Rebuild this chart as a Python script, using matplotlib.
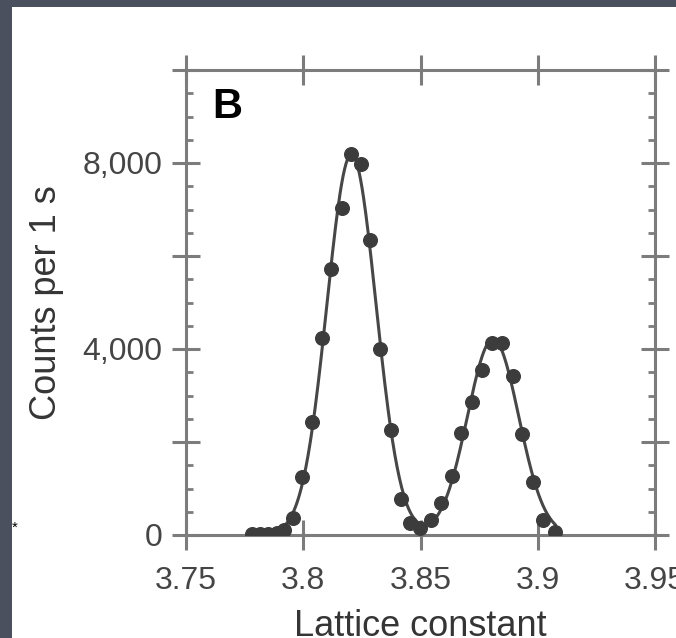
import numpy as np
import matplotlib
matplotlib.use("Agg")
import matplotlib.pyplot as plt
from matplotlib.ticker import MultipleLocator, FixedFormatter, FixedLocator
from matplotlib.patches import Rectangle

# lattice constant scan
lattice = [3.7781, 3.7816, 3.7850, 3.7888, 3.7918, 3.7956, 3.7995, 3.8037,
           3.8080, 3.8118, 3.8165, 3.8204, 3.8246, 3.8285, 3.8327, 3.8374,
           3.8417, 3.8455, 3.8498, 3.8545, 3.8587, 3.8634, 3.8673, 3.8720,
           3.8762, 3.8805, 3.8848, 3.8894, 3.8933, 3.8980, 3.9022, 3.9074]
counts = [20, 20, 20, 40, 100, 360, 1240, 2420,
          4240, 5710, 7040, 8190, 7980, 6350, 4000, 2250,
          770, 260, 150, 320, 680, 1260, 2200, 2870,
          3550, 4130, 4130, 3420, 2180, 1130, 320, 60]

xticks = [3.75, 3.8, 3.85, 3.9, 3.95]
xticklabels = ["3.75", "3.8", "3.85", "3.9", "3.95"]
yticks = [0, 2000, 4000, 6000, 8000, 10000]
yticklabels = ["0", "", "4,000", "", "8,000", ""]

x = np.array(lattice)
y = np.array(counts, dtype=float)


# two gaussian fit, plain gauss-newton with a bit of damping
def model(p, t):
    a1, m1, s1, a2, m2, s2 = p
    return (a1 * np.exp(-(t - m1) ** 2 / (2 * s1 ** 2))
            + a2 * np.exp(-(t - m2) ** 2 / (2 * s2 ** 2)))

split = np.argmin(y[10:25]) + 10
p = []
for sl in (slice(0, split), slice(split, len(x))):
    xs, ys = x[sl], y[sl]
    m = np.sum(xs * ys) / np.sum(ys)
    s = np.sqrt(np.sum(ys * (xs - m) ** 2) / np.sum(ys))
    p += [ys.max(), m, s]
p = np.array(p)
lam = 1e-3
for it in range(200):
    r = y - model(p, x)
    J = np.zeros((len(x), len(p)))
    for k in range(len(p)):
        dp = np.zeros(len(p))
        dp[k] = 1e-6 * max(abs(p[k]), 1e-3)
        J[:, k] = (model(p + dp, x) - model(p - dp, x)) / (2 * dp[k])
    A = J.T @ J
    step = np.linalg.solve(A + lam * np.diag(np.diag(A)), J.T @ r)
    pn = p + step
    if np.sum((y - model(pn, x)) ** 2) < np.sum(r ** 2):
        p = pn
        lam *= 0.5
    else:
        lam *= 4

xf = np.linspace(x.min(), x.max(), 400)
yf = model(p, xf)

plt.rcParams['font.family'] = ['Liberation Sans', 'DejaVu Sans']

fig = plt.figure(figsize=(6.76, 6.38), dpi=100)
fig.patch.set_facecolor("#4b505e")
fig.patches.append(Rectangle((12 / 676, 0), 1, 1 - 7 / 638, transform=fig.transFigure,
                             facecolor="white", edgecolor="none", zorder=-5))

ax = fig.add_axes([186 / 676, 103 / 638, 469 / 676, 465 / 638])
ax.set_facecolor("white")
ax.patch.set_alpha(0)

ax.plot(xf, yf, color="#474747", lw=2.2, zorder=3)
ax.plot(x, y, "o", color="#3c3c3c", ms=9.8, mec="#3c3c3c", zorder=4)

ax.set_xlim(3.75, 3.95)
ax.set_ylim(0, 10000)
ax.xaxis.set_major_locator(FixedLocator(xticks))
ax.xaxis.set_major_formatter(FixedFormatter(xticklabels))
ax.yaxis.set_major_locator(FixedLocator(yticks))
ax.yaxis.set_major_formatter(FixedFormatter(yticklabels))
ax.yaxis.set_minor_locator(MultipleLocator(500))

for s in ax.spines.values():
    s.set_color("#7c7c7c")
    s.set_linewidth(2.2)

ax.tick_params(axis="x", which="major", direction="inout", length=22, width=2.2,
               color="#7c7c7c", top=True, bottom=True, labelsize=23,
               labelcolor="#454545", pad=11)
ax.tick_params(axis="y", which="major", direction="inout", length=20, width=2.2,
               color="#7c7c7c", left=True, right=True, labelsize=23,
               labelcolor="#454545", pad=7)
ax.tick_params(axis="y", which="minor", direction="in", length=5, width=2.0,
               color="#7c7c7c", left=True, right=True)

ax.set_xlabel("Lattice constant", fontsize=26, color="#353535")
ax.xaxis.set_label_coords(0.5, -(609 - 535) / 465)
ax.xaxis.label.set_va("top")
ax.set_ylabel("Counts per 1 s", fontsize=26, color="#353535")
ax.yaxis.set_label_coords((47 - 186) / 469, 0.5)
ax.yaxis.label.set_va("center")

ax.text((212 - 186) / 469, (535 - 107) / 465, "B", transform=ax.transAxes,
        fontsize=30, fontweight="bold", ha="left", va="center", color="black")

fig.text(15 / 676, 1 - 528 / 638, "*", fontsize=11, color="black",
         ha="center", va="center")

fig.savefig("out.png", dpi=100, facecolor=fig.get_facecolor())
